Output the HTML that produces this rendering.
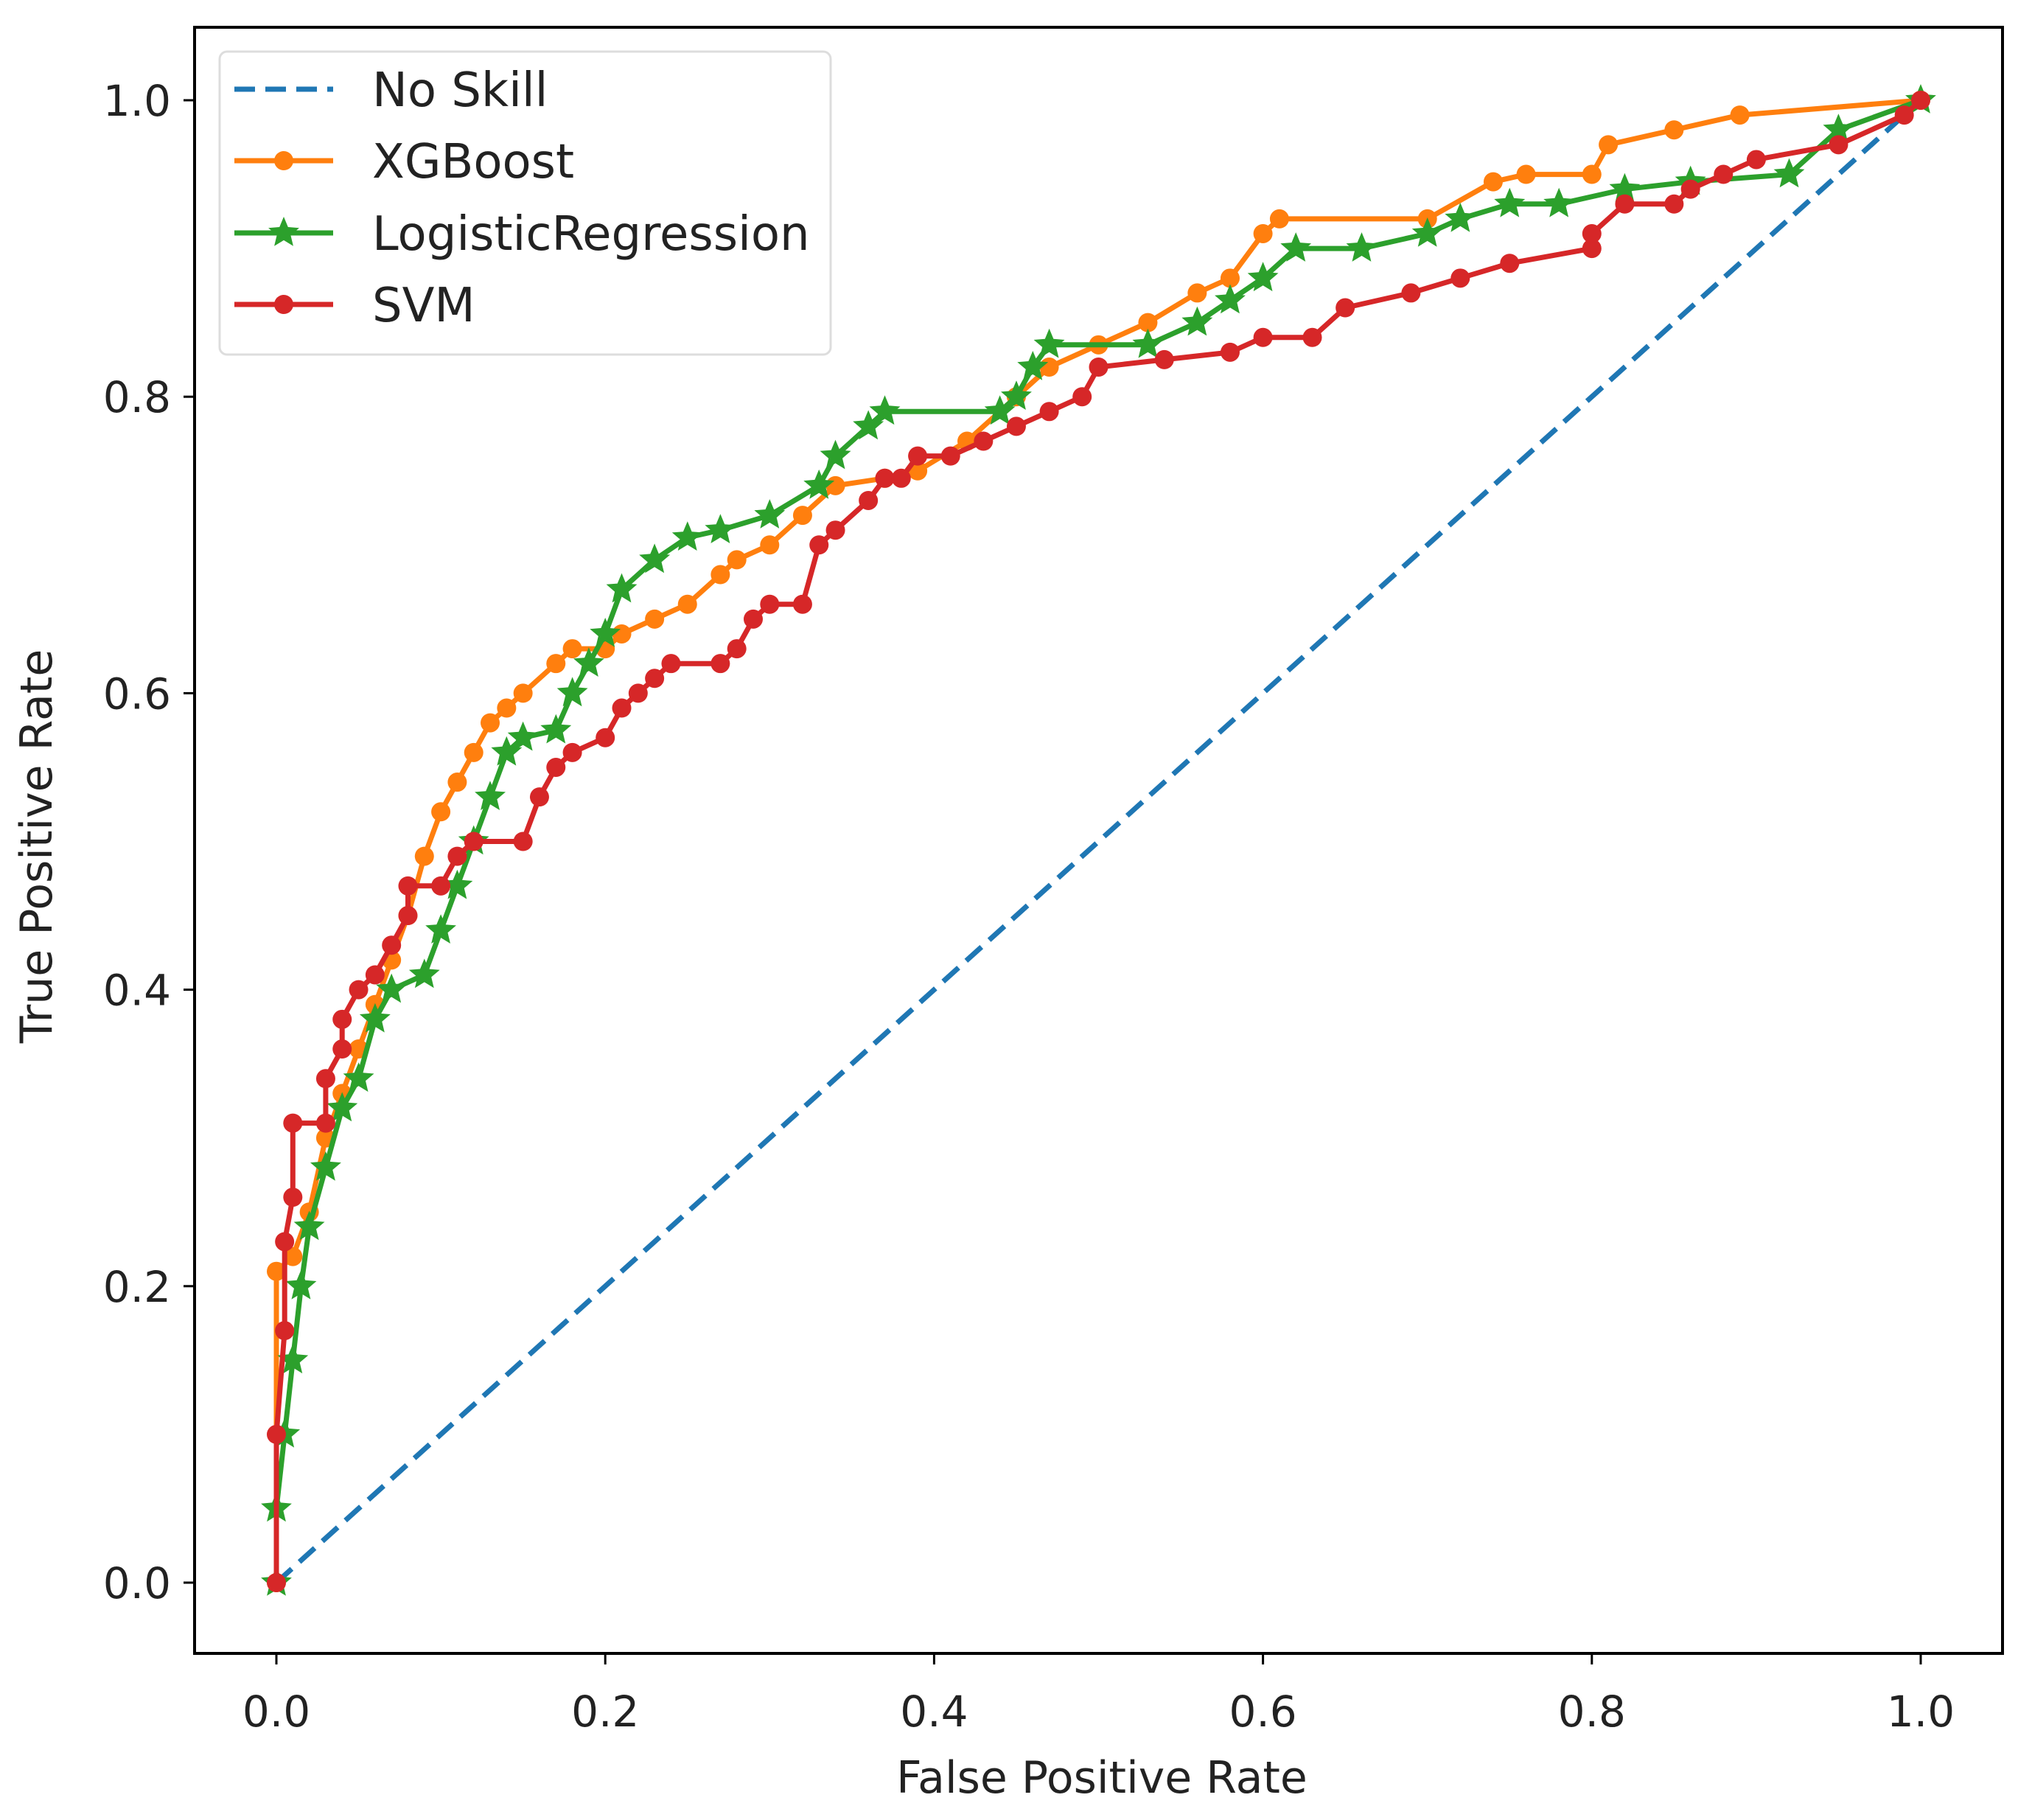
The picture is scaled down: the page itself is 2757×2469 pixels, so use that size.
<!DOCTYPE html>
<html><head><meta charset="utf-8"><style>
html,body{margin:0;padding:0;background:#fff;}
svg{display:block;font-family:"DejaVu Sans","Liberation Sans",sans-serif;}
</style></head><body>
<svg id="chart" width="2757" height="2469" viewBox="0 0 2757 2469">
<rect x="0" y="0" width="2757" height="2469" fill="#fff"/>
<g id="plot"></g>
<g id="axes"></g>
<g id="legend"></g>
</svg>
<script>
const xTicks = [0.0, 0.2, 0.4, 0.6, 0.8, 1.0];
const yTicks = [0.0, 0.2, 0.4, 0.6, 0.8, 1.0];
const tickLabels = ["0.0","0.2","0.4","0.6","0.8","1.0"];
const noSkillFpr = [0, 1];
const noSkillTpr = [0, 1];
const xgbFpr = [0,0,0.01,0.02,0.03,0.04,0.05,0.06,0.07,0.08,0.09,0.1,0.11,0.12,0.13,0.14,0.15,0.17,0.18,0.2,0.21,0.23,0.25,0.27,0.28,0.3,0.32,0.34,0.37,0.39,0.42,0.45,0.47,0.5,0.53,0.56,0.58,0.6,0.61,0.7,0.74,0.76,0.8,0.81,0.85,0.89,1];
const xgbTpr = [0,0.21,0.22,0.25,0.3,0.33,0.36,0.39,0.42,0.45,0.49,0.52,0.54,0.56,0.58,0.59,0.6,0.62,0.63,0.63,0.64,0.65,0.66,0.68,0.69,0.7,0.72,0.74,0.745,0.75,0.77,0.8,0.82,0.835,0.85,0.87,0.88,0.91,0.92,0.92,0.945,0.95,0.95,0.97,0.98,0.99,1];
const lrFpr = [0,0,0.005,0.01,0.015,0.02,0.03,0.04,0.05,0.06,0.07,0.09,0.1,0.11,0.12,0.13,0.14,0.15,0.17,0.18,0.19,0.2,0.21,0.23,0.25,0.27,0.3,0.33,0.34,0.36,0.37,0.44,0.45,0.46,0.47,0.53,0.56,0.58,0.6,0.62,0.66,0.7,0.72,0.75,0.78,0.82,0.86,0.92,0.95,1];
const lrTpr = [0,0.05,0.1,0.15,0.2,0.24,0.28,0.32,0.34,0.38,0.4,0.41,0.44,0.47,0.5,0.53,0.56,0.57,0.575,0.6,0.62,0.64,0.67,0.69,0.705,0.71,0.72,0.74,0.76,0.78,0.79,0.79,0.8,0.82,0.835,0.835,0.85,0.865,0.88,0.9,0.9,0.91,0.92,0.93,0.93,0.94,0.945,0.95,0.98,1];
const svmFpr = [0,0,0.005,0.005,0.01,0.01,0.03,0.03,0.04,0.04,0.05,0.06,0.07,0.08,0.08,0.1,0.11,0.12,0.15,0.16,0.17,0.18,0.2,0.21,0.22,0.23,0.24,0.27,0.28,0.29,0.3,0.32,0.33,0.34,0.36,0.37,0.38,0.39,0.41,0.43,0.45,0.47,0.49,0.5,0.54,0.58,0.6,0.63,0.65,0.69,0.72,0.75,0.8,0.8,0.82,0.85,0.86,0.88,0.9,0.95,0.99,1];
const svmTpr = [0,0.1,0.17,0.23,0.26,0.31,0.31,0.34,0.36,0.38,0.4,0.41,0.43,0.45,0.47,0.47,0.49,0.5,0.5,0.53,0.55,0.56,0.57,0.59,0.6,0.61,0.62,0.62,0.63,0.65,0.66,0.66,0.7,0.71,0.73,0.745,0.745,0.76,0.76,0.77,0.78,0.79,0.8,0.82,0.825,0.83,0.84,0.84,0.86,0.87,0.88,0.89,0.9,0.91,0.93,0.93,0.94,0.95,0.96,0.97,0.99,1];

const NS = "http://www.w3.org/2000/svg";
const X0 = 375, X1 = 2606, Y0 = 2147, Y1 = 136;
function sx(v){ return X0 + (X1 - X0) * v; }
function sy(v){ return Y0 - (Y0 - Y1) * v; }
function mk(tag, attrs, parent){
  const e = document.createElementNS(NS, tag);
  for (const k in attrs) e.setAttribute(k, attrs[k]);
  parent.appendChild(e);
  return e;
}
function starPath(cx, cy, R){
  const r = R * 0.45; let d = "";
  for (let i = 0; i < 10; i++){
    const a = -Math.PI/2 + i * Math.PI/5;
    const rr = i % 2 ? r : R;
    d += (i ? "L" : "M") + (cx + rr*Math.cos(a)).toFixed(1) + "," + (cy + rr*Math.sin(a)).toFixed(1);
  }
  return d + "Z";
}
const plot = document.getElementById("plot");
const axes = document.getElementById("axes");
const legend = document.getElementById("legend");

function series(name, fx, fy, color, marker, dash){
  const g = mk("g", {}, plot);
  
  
  const pts = fx.map((v,i)=> sx(v).toFixed(1) + "," + sy(fy[i]).toFixed(1)).join(" ");
  const pl = mk("polyline", {points: pts, fill: "none", stroke: color, "stroke-width": 7, "stroke-linejoin": "round"}, g);
  if (dash) pl.setAttribute("stroke-dasharray", "28 14");
  
  
  fx.forEach((v,i)=>{
    if (marker === "dot"){
      const c = mk("circle", {cx: sx(v), cy: sy(fy[i]), r: 13, fill: color}, g);
      
      
    } else if (marker === "star"){
      const p = mk("path", {d: starPath(sx(v), sy(fy[i]), 22), fill: color}, g);
      
      
    }
  });
}
series("no-skill", noSkillFpr, noSkillTpr, "#1f77b4", null, true);
series("xgboost", xgbFpr, xgbTpr, "#ff7f0e", "dot", false);
series("logistic-regression", lrFpr, lrTpr, "#2ca02c", "star", false);
series("svm", svmFpr, svmTpr, "#d62728", "dot", false);

const frame = mk("rect", {x: 264, y: 37, width: 2717-264, height: 2243-37, fill: "none", stroke: "#000", "stroke-width": 4}, axes);


xTicks.forEach((v,i)=>{
  const t = mk("line", {x1: sx(v), x2: sx(v), y1: 2243, y2: 2258, stroke: "#000", "stroke-width": 3}, axes);
  
  
  const l = mk("text", {x: sx(v), y: 2342, "font-size": 58, "text-anchor": "middle", fill: "#222"}, axes);
  l.textContent = tickLabels[i];
  
  
});
yTicks.forEach((v,i)=>{
  const t = mk("line", {x1: 249, x2: 264, y1: sy(v), y2: sy(v), stroke: "#000", "stroke-width": 3}, axes);
  
  
  const l = mk("text", {x: 232, y: sy(v) + 21, "font-size": 58, "text-anchor": "end", fill: "#222"}, axes);
  l.textContent = tickLabels[i];
  
  
});
const xt = mk("text", {x: 1495, y: 2432, "font-size": 60, "text-anchor": "middle", fill: "#222"}, axes);
xt.textContent = "False Positive Rate";


const yt = mk("text", {x: 0, y: 0, "font-size": 60, "text-anchor": "middle", fill: "#222", transform: "translate(70,1148) rotate(-90)"}, axes);
yt.textContent = "True Positive Rate";



const lb = mk("rect", {x: 298, y: 70, width: 829, height: 411, rx: 10, fill: "#fff", "fill-opacity": 0.85, stroke: "#ddd", "stroke-width": 3}, legend);


const legNames = ["No Skill","XGBoost","LogisticRegression","SVM"];
const legColors = ["#1f77b4","#ff7f0e","#2ca02c","#d62728"];
const legY = [121, 218, 316, 413];
legNames.forEach((n,i)=>{
  const g = mk("g", {}, legend);
  
  
  const ln = mk("line", {x1: 318, x2: 452, y1: legY[i], y2: legY[i], stroke: legColors[i], "stroke-width": 7}, g);
  if (i === 0) ln.setAttribute("stroke-dasharray", "28 14");
  if (i === 1 || i === 3) mk("circle", {cx: 385, cy: legY[i], r: 13, fill: legColors[i]}, g);
  if (i === 2) mk("path", {d: starPath(385, legY[i], 22), fill: legColors[i]}, g);
  const t = mk("text", {x: 505, y: legY[i] + 23, "font-size": 64, fill: "#222"}, g);
  t.textContent = n;
});
</script>
</body></html>
